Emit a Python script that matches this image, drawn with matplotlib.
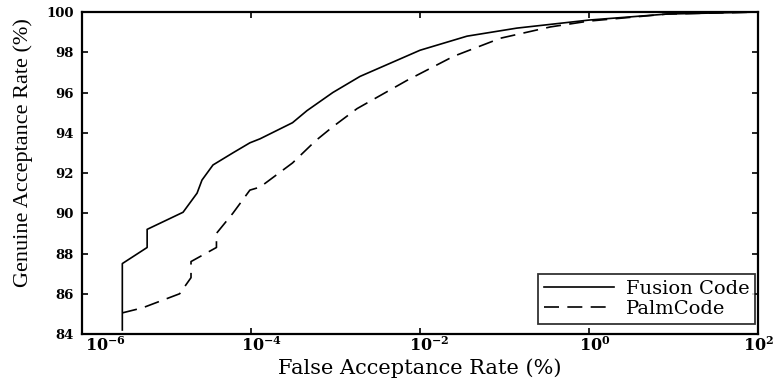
import numpy as np
import matplotlib.pyplot as plt
import matplotlib.transforms as mtransforms

# FAR (%) / GAR (%)
fusion_far = [3.0e-6, 3.0e-6, 5.9e-6, 5.9e-6, 1.57e-5, 2.3e-5, 2.63e-5, 3.55e-5,
              6.1e-5, 9.7e-5, 1.28e-4, 3.1e-4, 4.6e-4, 9.3e-4, 1.95e-3,
              1.0e-2, 3.6e-2, 0.14, 1.0, 8.4, 100.0]
fusion_gar = [84.2, 87.5, 88.3, 89.2, 90.05, 91.0, 91.65, 92.4,
              93.0, 93.5, 93.7, 94.5, 95.1, 96.0, 96.8,
              98.1, 98.8, 99.2, 99.6, 99.9, 100.0]

palm_far = [3.0e-6, 5.2e-6, 1.43e-5, 1.95e-5, 1.95e-5, 3.9e-5, 3.9e-5, 6.1e-5,
            9.7e-5, 1.28e-4, 3.1e-4, 5.8e-4, 9.3e-4, 1.8e-3, 7.0e-3,
            2.5e-2, 9.0e-2, 0.35, 1.0, 8.4, 100.0]
palm_gar = [85.05, 85.3, 86.0, 86.8, 87.6, 88.3, 89.0, 90.0,
            91.15, 91.3, 92.5, 93.6, 94.3, 95.2, 96.6,
            97.8, 98.7, 99.26, 99.55, 99.9, 100.0]

xticks = [1e-6, 1e-4, 1e-2, 1e0, 1e2]
xticklabels = ['$\\mathbf{10^{-6}}$', '$\\mathbf{10^{-4}}$', '$\\mathbf{10^{-2}}$',
               '$\\mathbf{10^{0}}$', '$\\mathbf{10^{2}}$']
xlabel_shift = [3, -10, -11, -10, -15]   # px, labels sit right of their ticks
yticks = np.arange(84, 101, 2)

plt.rcParams['font.family'] = ['DejaVu Serif']
plt.rcParams['mathtext.fontset'] = 'dejavuserif'

fig = plt.figure(figsize=(7.78, 3.79), dpi=100)
ax = fig.add_axes([0.1054, 0.1187, 0.8689, 0.8496])

ax.plot(fusion_far, fusion_gar, color='black', lw=1.2, label='Fusion Code')
ax.plot(palm_far, palm_gar, color='black', lw=1.2, dashes=(9, 5), label='PalmCode')

ax.set_xscale('log')
ax.set_xlim(1e-6, 1e2)
ax.set_ylim(84, 100)
ax.set_xticks(xticks)
ax.set_xticklabels(xticklabels, fontsize=11.5)
ax.minorticks_off()
ax.set_yticks(yticks)
ax.set_yticklabels([str(v) for v in yticks], fontsize=9.5, fontweight='bold')
ax.tick_params(direction='in', top=True, right=True, length=4, width=1.2)
ax.tick_params(axis='x', pad=2)
ax.tick_params(axis='y', pad=6)
for s in ax.spines.values():
    s.set_linewidth(1.6)

for lab, dx in zip(ax.get_xticklabels(), xlabel_shift):
    lab.set_ha('left')
    lab.set_transform(lab.get_transform() +
                      mtransforms.ScaledTranslation(dx / 100, 0, fig.dpi_scale_trans))

ax.set_xlabel('False Acceptance Rate (%)', fontsize=15)
ax.xaxis.set_label_coords(0.5, -0.074)
ax.set_ylabel('Genuine Acceptance Rate (%)', fontsize=16, family='Liberation Serif')
ax.yaxis.set_label_coords(-0.072, 0.562)

leg = ax.legend(loc='lower right', bbox_to_anchor=(0.9956, 0.031), fontsize=14,
                frameon=True, fancybox=False, edgecolor='black', handlelength=3.6,
                handletextpad=0.6, borderpad=0.3, labelspacing=0.1,
                borderaxespad=0.0)
leg.get_frame().set_linewidth(1.3)

fig.savefig('out.png', dpi=100)
